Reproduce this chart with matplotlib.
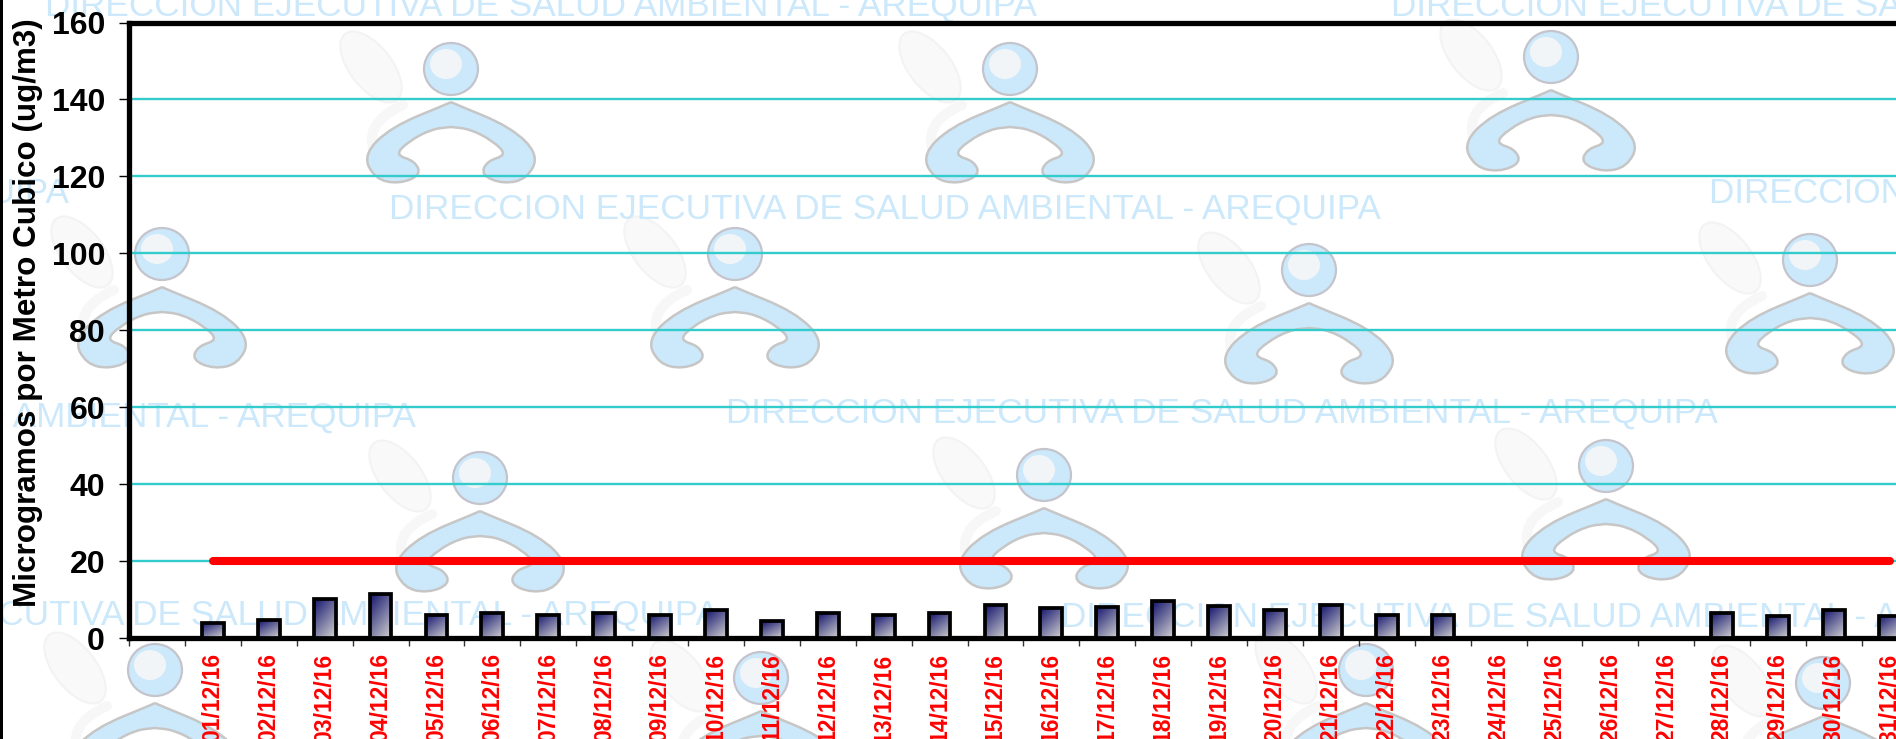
import matplotlib
matplotlib.use('Agg')
import matplotlib.pyplot as plt
import numpy as np
from matplotlib.colors import LinearSegmentedColormap
from matplotlib.patches import Ellipse, PathPatch, Rectangle
from matplotlib.path import Path

plt.rcParams['font.family'] = ['Liberation Sans', 'DejaVu Sans']

# dates on the axis, first slot of the axis is left empty
dates = ['%02d/12/16' % d for d in range(1, 32)]
pm_values = [3.9, 4.6, 10.2, 11.5, 6.0, 6.6, 6.0, 6.4, 6.1, 7.2, 4.3, 6.4, 5.9, 6.4, 8.5, 7.8,
             8.1, 9.5, 8.2, 7.3, 8.5, 6.1, 6.1, 0, 0, 0, 0, 6.6, 5.7, 7.4, 5.8]
limit_values = [20] * 31
y_ticks = [0, 20, 40, 60, 80, 100, 120, 140, 160]

# watermark placement, in image pixels
wm_text = 'DIRECCION EJECUTIVA DE SALUD AMBIENTAL - AREQUIPA'
wm_text_pos = [(45, 6), (1391, 6), (389, 209), (-923, 193), (1709, 193), (-576, 417),
               (726, 413), (-273, 615), (1061, 617)]
wm_logo_pos = [(451, 69), (1010, 69), (1551, 57), (162, 254), (735, 254), (1309, 270), (1810, 260),
               (480, 478), (1044, 475), (1606, 466), (155, 670), (761, 678), (1366, 670), (1823, 683)]
# half of the logo body outline, relative to the centre of the head
body_half = [(0, 33), (-4, 35), (-60, 58), (-88, 86), (-76, 110), (-52, 115), (-30, 106), (-36, 92),
             (-56, 86), (-42, 72), (-19, 60), (0, 58)]

W, H = 1896, 739
PX = 0.72  # pixels to points at dpi 100
BLUE = '#cce8fb'


def smooth_closed(points):
    # closed quadratic spline through the midpoints of the outline
    pts = np.array(points, dtype=float)
    mids = (pts + np.roll(pts, -1, axis=0)) / 2
    verts, codes = [mids[-1]], [Path.MOVETO]
    for p, m in zip(pts, mids):
        verts += [p, m]
        codes += [Path.CURVE3, Path.CURVE3]
    return Path(verts, codes)


def draw_logo(bg, cx, cy):
    # grey ghost behind the figure
    bg.add_patch(Ellipse((cx - 80, cy - 2), 42, 84, angle=-38, fc='#f9f9f9', ec='#f3f3f3', lw=1.5, zorder=1))
    ghost = Path([(cx - 74, cy + 90), (cx - 92, cy + 55), (cx - 48, cy + 36)],
                 [Path.MOVETO, Path.CURVE3, Path.CURVE3])
    bg.add_patch(PathPatch(ghost, fc='none', ec='#f7f7f7', lw=10 * PX, capstyle='round', zorder=1))
    # head
    bg.add_patch(Ellipse((cx, cy), 54, 52, fc=BLUE, ec='#c4c4cc', lw=1.6, zorder=2))
    bg.add_patch(Ellipse((cx - 5, cy - 5), 32, 30, fc='#f2f5f7', ec='none', zorder=2))
    # body arch with hooked feet
    right = [(-px, py) for px, py in body_half[::-1]]
    outline = [(cx + px, cy + py) for px, py in body_half + right]
    bg.add_patch(PathPatch(smooth_closed(outline), fc=BLUE, ec='#c6c6c6', lw=1.8, zorder=2))


fig = plt.figure(figsize=(W / 100, H / 100), dpi=100, facecolor='white')

bg = fig.add_axes([0, 0, 1, 1], zorder=0)
bg.set_xlim(0, W)
bg.set_ylim(H, 0)
bg.axis('off')
for cx, cy in wm_logo_pos:
    draw_logo(bg, cx, cy)
for tx, ty in wm_text_pos:
    bg.text(tx, ty, wm_text, color=BLUE, fontsize=25.3, va='center', ha='left', zorder=3, clip_on=True)
bg.add_patch(Rectangle((0, 0), 3, H, fc='black', ec='none', zorder=4))

# axes run past the right edge of the image, as in the original
left, right, top, bottom = 129, 129 + 32 * 55.9, 22.5, 638
ax = fig.add_axes([left / W, 1 - bottom / H, (right - left) / W, (bottom - top) / H], zorder=1)
ax.patch.set_alpha(0)

x = np.arange(1, 32)
ax.set_xlim(-0.5, 31.5)
ax.set_ylim(0, 160)

ax.yaxis.grid(True, color='#33cccc', linewidth=1.7, zorder=1)
ax.set_axisbelow(True)

grad_cmap = LinearSegmentedColormap.from_list('bar_grad', ['#14146e', '#d2d2d2'])
gx, gy = np.meshgrid(np.linspace(0, 1, 32), np.linspace(0, 1, 32))
bars = ax.bar(x, pm_values, width=0.39, facecolor='none', edgecolor='black', linewidth=2.7, zorder=4)
for bar, val in zip(bars, pm_values):
    if val == 0:
        bar.set_visible(False)
        continue
    bx, bw = bar.get_x(), bar.get_width()
    img = ax.imshow(0.4 * gx + 0.6 * gy, cmap=grad_cmap, vmin=0, vmax=1, aspect='auto',
                    extent=(bx, bx + bw, 0, val), zorder=3)
    img.set_clip_path(bar)
ax.set_xlim(-0.5, 31.5)
ax.set_ylim(0, 160)

ax.plot(x, limit_values, color='#ff0000', linewidth=5.8, solid_capstyle='round', zorder=5, clip_on=False)

for side in ['top', 'left', 'bottom']:
    ax.spines[side].set_linewidth(3.8)
ax.spines['right'].set_visible(False)

ax.set_yticks(y_ticks)
ax.set_yticklabels([str(v) for v in y_ticks], fontsize=23, fontweight='bold')
ax.tick_params(axis='y', length=10 * PX, width=1, pad=10)

ax.set_xticks(x)
ax.set_xticklabels(dates, rotation=90, fontsize=16.5, fontweight='bold', color='#ff0000')
ax.tick_params(axis='x', which='major', length=0, pad=11)
ax.set_xticks(np.arange(-0.5, 32, 1), minor=True)
ax.tick_params(axis='x', which='minor', length=5.5, width=1, color='#333333')

fig.text(28 / W, 1 - 313 / H, 'Microgramos por Metro Cubico (ug/m3)', rotation=90, fontsize=22.6,
         fontweight='bold', ha='center', va='center', color='black', zorder=5)

fig.savefig('out.png', dpi=100)
plt.close(fig)
